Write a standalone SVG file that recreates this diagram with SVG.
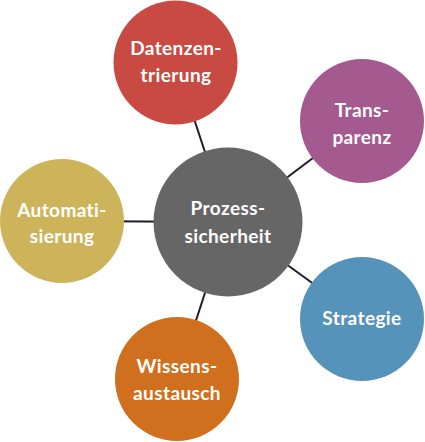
<svg xmlns="http://www.w3.org/2000/svg" width="425" height="442" viewBox="0 0 425 442">
<style>
.lbl{font-family:Lato,"Liberation Sans",sans-serif;font-weight:700;font-size:19px;letter-spacing:0.4px;fill:#ffffff;text-anchor:middle}
.conn line{stroke:#1c1c2a;stroke-width:2}
</style>
<rect width="425" height="442" fill="#ffffff"/>
<g id="connectors" class="conn">
<line x1="228" y1="222" x2="175.5" y2="62.5"/>
<line x1="228" y1="222" x2="362" y2="121"/>
<line x1="228" y1="222" x2="362" y2="319"/>
<line x1="228" y1="222" x2="177" y2="379"/>
<line x1="228" y1="222" x2="62" y2="221"/>
</g>
<g id="prozesssicherheit">
<circle cx="228" cy="222" r="74.5" fill="#666666"/>
<text class="lbl" x="228" y="215">Prozess-</text>
<text class="lbl" x="228" y="243">sicherheit</text>
</g>
<g id="datenzentrierung">
<circle cx="175.5" cy="62.5" r="62" fill="#c84a42"/>
<text class="lbl" x="176" y="55">Datenzen-</text>
<text class="lbl" x="176" y="82">trierung</text>
</g>
<g id="transparenz">
<circle cx="362" cy="121" r="62" fill="#a4598f"/>
<text class="lbl" x="362" y="117">Trans-</text>
<text class="lbl" x="362" y="144">parenz</text>
</g>
<g id="strategie">
<circle cx="362" cy="319" r="62" fill="#5693bb"/>
<text class="lbl" x="362" y="325">Strategie</text>
</g>
<g id="wissensaustausch">
<circle cx="177" cy="379" r="62" fill="#d06f1e"/>
<text class="lbl" x="177" y="373">Wissens-</text>
<text class="lbl" x="177" y="400">austausch</text>
</g>
<g id="automatisierung">
<circle cx="62" cy="221" r="62" fill="#cdb45a"/>
<text class="lbl" x="62" y="217">Automati-</text>
<text class="lbl" x="62" y="243">sierung</text>
</g>
</svg>
